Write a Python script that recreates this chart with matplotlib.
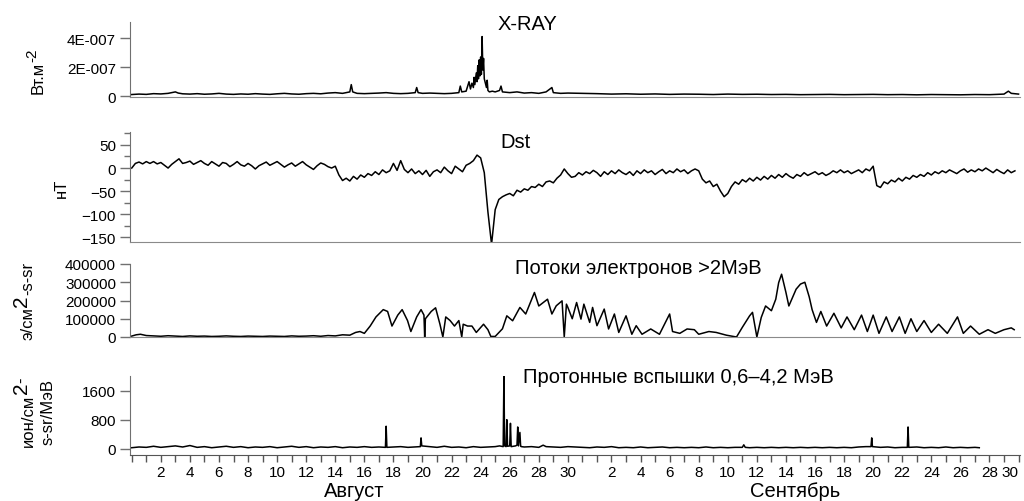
import numpy as np
import matplotlib
matplotlib.use('Agg')
import matplotlib.pyplot as plt
from matplotlib.ticker import FixedLocator
from matplotlib.transforms import IdentityTransform

plt.rcParams['font.family'] = ['Liberation Sans', 'DejaVu Sans']

# ---------------- data (day 0 = start of 1 August) ----------------
xray_day = [0.0, 0.5, 1.0, 1.5, 2.0, 2.5, 3.0, 3.2, 3.5, 4.0, 4.5, 5.0, 5.5, 6.0, 6.5, 7.0, 7.5, 8.0,
            8.5, 9.0, 9.5, 10.0, 10.5, 11.0, 11.5, 12.0, 12.5, 13.0, 13.5, 14.0, 14.5, 15.0, 15.1, 15.2,
            15.5, 16.0, 16.5, 17.0, 17.5, 18.0, 18.5, 19.0, 19.5, 19.6, 19.7, 20.0, 20.5, 21.0, 21.5,
            22.0, 22.5, 22.6, 22.7, 23.0, 23.2, 23.3, 23.4, 23.5, 23.55, 23.6, 23.7, 23.75, 23.8, 23.85,
            23.9, 23.95, 24.0, 24.05, 24.1, 24.15, 24.2, 24.25, 24.3, 24.4, 24.45, 24.5, 24.6, 24.8,
            25.0, 25.3, 25.4, 25.5, 26.0, 26.5, 27.0, 27.5, 28.0, 28.5, 28.9, 29.0, 29.5, 30.0, 31.0,
            32.0, 33.0, 34.0, 35.0, 36.0, 37.0, 38.0, 39.0, 40.0, 41.0, 42.0, 43.0, 44.0, 45.0, 46.0,
            47.0, 48.0, 49.0, 50.0, 51.0, 52.0, 53.0, 54.0, 55.0, 56.0, 57.0, 58.0, 59.0, 60.0, 60.3,
            60.5, 61.0]
xray_val = [0.12, 0.15, 0.13, 0.18, 0.16, 0.2, 0.3, 0.22, 0.17, 0.15, 0.18, 0.14, 0.16, 0.2, 0.15, 0.13, 0.16, 0.14,
            0.18, 0.15, 0.13, 0.17, 0.2, 0.16, 0.14, 0.18, 0.2, 0.17, 0.22, 0.25, 0.2, 0.3, 0.8, 0.3,
            0.2, 0.18, 0.2, 0.22, 0.25, 0.2, 0.18, 0.2, 0.25, 0.6, 0.25, 0.2, 0.22, 0.2, 0.18,
            0.2, 0.25, 0.7, 0.3, 0.35, 1.0, 0.5, 0.9, 0.6, 1.3, 0.8, 1.6, 1.0, 2.1, 1.2,
            2.5, 1.4, 2.7, 1.5, 4.1, 1.8, 2.6, 1.2, 1.0, 0.6, 1.1, 0.4, 0.3, 0.35,
            0.3, 0.4, 0.7, 0.3, 0.25, 0.3, 0.22, 0.25, 0.2, 0.3, 0.6, 0.25, 0.2, 0.22, 0.2,
            0.18, 0.15, 0.17, 0.14, 0.16, 0.13, 0.15, 0.14, 0.12, 0.15, 0.13, 0.14, 0.12, 0.13, 0.11,
            0.12, 0.13, 0.11, 0.12, 0.13, 0.11, 0.12, 0.1, 0.12, 0.11, 0.1, 0.12, 0.11, 0.15, 0.35,
            0.2, 0.15]

dst_step = 0.25
dst_val = [0, 10, 13, 9,   14, 10, 14, 9,   12, 6, 0, 8,   14, 20, 10, 12,
           15, 8, 12, 16,  10, 6, 14, 9,    4, 12, 10, 3,  8, 14, 7, 4,
           10, 5, -2, 5,   9, 13, 6, 10,    14, 8, 2, 7,   11, 4, 9, 14,
           7, 2, -3, 5,    11, 8, 3, 0,     4, -15, -27, -22,  -28, -18, -24, -15,
           -20, -12, -16, -8,  -14, -4, -10, -6,  10, -5, 16, -3,  -10, -2, -12, -6,
           -14, -5, -18, -8,  -4, -10, 2, -6,  -12, 4, -2, -8,  6, 10, 16, 28,
           22, -10, -95, -165,  -90, -68, -62, -58,  -55, -60, -48, -52,  -45, -48, -40, -42,
           -35, -40, -30, -28,  -32, -22, -15, -2,  -12, -20, -18, -10,  -15, -8, -12, -5,
           -10, -18, -8, -14,  -6, -12, -4, -10,  -14, -8, -16, -6,  -12, -4, -10, -6,
           -14, -8, -3, -12,  -6, -10, -2, -8,  -4, -12, -6, -2,  -6, -24, -32, -28,
           -40, -35, -50, -62,  -55, -40, -30, -35,  -25, -30, -22, -28,  -20, -26, -18, -24,
           -16, -22, -14, -20,  -12, -18, -22, -14,  -18, -10, -16, -12,  -8, -14, -10, -16,
           -12, -6, -10, -4,  -10, -6, -12, -8,  -4, -10, -2, -6,  4, -38, -42, -30,
           -34, -26, -30, -22,  -28, -20, -24, -16,  -20, -14, -18, -10,  -15, -8, -12, -6,
           -10, -4, -8, -12,  -6, -2, -9, -4,  -8, -2, -6, 0,  -5, -10, -3, -8,
           -12, -4, -10, -6]

elec_day = [0.0, 0.3, 0.6, 1.0, 1.5, 2.0, 2.5, 3.0, 3.5, 4.0, 4.5, 5.0, 5.5, 6.0, 6.5, 7.0, 7.5, 8.0,
            8.5, 9.0, 9.5, 10.0, 10.5, 11.0, 11.5, 12.0, 12.5, 13.0, 13.5, 14.0, 14.5, 15.0, 15.4,
            15.7, 16.0, 16.4, 16.8, 17.3, 17.6, 17.9, 18.3, 18.6, 18.97, 19.2, 19.6, 19.9, 20.1, 20.15,
            20.2, 20.6, 20.9, 21.2, 21.4, 21.6, 21.9, 22.2, 22.5, 22.7, 22.8, 23.1, 23.4, 23.7, 24.2,
            24.5, 24.7, 25.0, 25.5, 25.8, 26.2, 26.7, 27.1, 27.7, 28.0, 28.6, 28.9, 29.2, 29.6, 29.75,
            29.9, 30.0, 30.3, 30.6, 30.9, 31.1, 31.5, 31.7, 32.0, 32.5, 32.8, 33.2, 33.5, 34.0, 34.4,
            34.7, 35.1, 35.7, 36.3, 37.0, 37.2, 37.7, 38.2, 38.7, 39.0, 39.7, 40.2, 40.9, 41.6, 42.0,
            42.5, 42.7, 43.0, 43.3, 43.6, 44.0, 44.3, 44.5, 44.7, 45.0, 45.2, 45.4, 45.7, 46.0, 46.3,
            46.6, 46.8, 47.1, 47.4, 47.8, 48.3, 48.8, 49.2, 49.7, 50.2, 50.6, 51.0, 51.4, 51.9, 52.3,
            52.8, 53.2, 53.6, 54.0, 54.5, 55.0, 55.5, 56.1, 56.8, 57.2, 57.7, 58.3, 58.9, 59.4, 60.0,
            60.5, 60.7]
elec_val = [5, 12, 15, 8, 6, 4, 7, 5, 3, 6, 4, 5, 3, 4, 6, 4, 3, 5,
            4, 3, 5, 4, 3, 6, 4, 5, 7, 4, 8, 6, 12, 10, 25,
            30, 20, 60, 110, 150, 140, 60, 120, 150, 90, 30, 110, 150, 120, 0,
            100, 140, 160, 70, 0, 110, 90, 60, 90, 0, 70, 60, 60, 25, 70,
            40, 3, 3, 45, 116, 89, 162, 126, 244, 170, 207, 126, 171, 198, 0,
            180, 162, 100, 189, 98, 180, 80, 162, 62, 153, 44, 126, 25, 116, 15,
            62, 15, 44, 15, 126, 30, 20, 44, 40, 15, 30, 25, 10, 0, 53,
            116, 135, 0, 107, 170, 144, 207, 298, 344, 244, 170, 207, 262, 290, 300,
            220, 150, 80, 140, 60, 130, 50, 110, 40, 120, 30, 120, 20, 110, 30,
            110, 20, 100, 30, 90, 25, 70, 20, 110, 20, 60, 15, 40, 20, 40,
            50, 40]

prot_day = [0.0, 0.5, 1.0, 1.5, 2.0, 2.5, 3.0, 3.5, 4.0, 4.5, 5.0, 5.5, 6.0, 6.5, 7.0, 7.5, 8.0, 8.5,
            9.0, 9.5, 10.0, 10.5, 11.0, 11.5, 12.0, 12.5, 13.0, 13.5, 14.0, 14.5, 15.0, 15.5, 16.0,
            16.5, 17.0, 17.45, 17.5, 17.55, 18.0, 18.5, 19.0, 19.5, 19.85, 19.9, 19.95, 20.5, 21.0,
            21.5, 22.0, 22.5, 23.0, 23.5, 24.0, 24.5, 25.0, 25.3, 25.55, 25.6, 25.65, 25.75, 25.8,
            25.85, 26.0, 26.05, 26.1, 26.4, 26.5, 26.55, 26.6, 26.7, 26.75, 26.8, 27.0, 27.5, 28.0,
            28.3, 28.5, 29.0, 29.5, 30.0, 30.5, 31.0, 31.5, 32.0, 32.5, 33.0, 33.5, 34.0, 34.5, 35.0,
            35.5, 36.0, 36.5, 37.0, 37.5, 38.0, 38.5, 39.0, 39.5, 40.0, 40.5, 41.0, 41.5, 42.0, 42.1,
            42.2, 42.5, 43.0, 43.5, 44.0, 44.5, 45.0, 45.5, 46.0, 46.5, 47.0, 47.5, 48.0, 48.5, 49.0,
            49.5, 50.0, 50.5, 50.85, 50.9, 50.95, 51.5, 52.0, 52.5, 53.0, 53.35, 53.4, 53.45, 54.0,
            54.5, 55.0, 55.5, 56.0, 56.5, 57.0, 57.5, 58.0, 58.3]
prot_val = [30, 50, 40, 70, 40, 60, 80, 50, 90, 40, 60, 30, 50, 70, 40, 60, 30, 50,
            40, 60, 30, 50, 70, 40, 60, 30, 50, 40, 60, 30, 50, 40, 60,
            40, 50, 40, 620, 40, 50, 60, 40, 50, 60, 300, 80, 60, 40,
            70, 40, 50, 30, 60, 40, 50, 60, 80, 60, 2000, 80, 60, 800,
            70, 80, 700, 60, 80, 100, 600, 80, 450, 70, 60, 50, 60, 40,
            100, 60, 50, 40, 60, 50, 40, 30, 50, 40, 60, 30, 40, 30, 50,
            30, 40, 50, 30, 40, 30, 40, 30, 50, 30, 40, 30, 40, 40, 110,
            40, 30, 40, 30, 40, 30, 40, 30, 40, 30, 40, 30, 40, 30, 40,
            30, 50, 60, 60, 300, 60, 40, 50, 30, 40, 40, 600, 40, 50,
            30, 40, 30, 50, 30, 40, 30, 40, 30]

aug_ticklabels = [str(d) for d in range(2, 31, 2)]
sep_ticklabels = [str(d) for d in range(2, 31, 2)]

# ---------------- layout ----------------
W, H = 1024, 502
fig = plt.figure(figsize=(W / 100, H / 100), dpi=100)
LEFT, RIGHT = 130, 1020
XLIM = (-0.12, 61.1)
SP = '#707070'


def add_ax(top, bottom):
    return fig.add_axes([LEFT / W, 1 - bottom / H, (RIGHT - LEFT) / W, (bottom - top) / H])


def ftext(x, y, s, **kw):
    fig.text(x / W, 1 - y / H, s, **kw)


def vlabel(xc, yc, pieces):
    """Vertical (rotated) label built from pieces (text, fontsize, shift-left px)."""
    r = fig.canvas.get_renderer()
    made = []
    total = 0.0
    for s, fs, dx in pieces:
        t = fig.text(0, 0, s, rotation=90, fontsize=fs, ha='center', va='bottom',
                     transform=IdentityTransform())
        h = t.get_window_extent(r).height
        made.append((t, h, dx))
        total += h
    y = (H - yc) - total / 2
    for t, h, dx in made:
        t.set_position((xc - dx, y))
        y += h


def style(ax, bottom_color='#8a8a8a'):
    for s in ('top', 'right'):
        ax.spines[s].set_visible(False)
    ax.spines['left'].set_color(SP)
    ax.spines['bottom'].set_color(bottom_color)
    ax.set_xlim(*XLIM)
    ax.tick_params(axis='y', direction='out', length=7, width=1, color=SP, labelsize=11, pad=3)
    ax.tick_params(axis='y', which='minor', direction='out', length=4.5, width=1, color=SP)
    ax.patch.set_alpha(0)


LW = 1.1
TFS = 14.5

# X-ray
ax1 = add_ax(23, 98)
style(ax1)
ax1.plot(xray_day, np.array(xray_val) * 1e-7, color='black', lw=LW)
ax1.set_ylim(-0.05e-7, 5.1e-7)
ax1.set_yticks([0, 2e-7, 4e-7])
ax1.set_yticklabels(['0', '2E-007', '4E-007'])
ax1.set_xticks([])

# Dst
ax2 = add_ax(133, 243)
style(ax2)
dst_day = np.arange(len(dst_val)) * dst_step
ax2.plot(dst_day, dst_val, color='black', lw=LW)
ax2.set_ylim(-160, 78)
ax2.set_yticks([-150, -100, -50, 0, 50])
ax2.yaxis.set_minor_locator(FixedLocator([-125, -75, -25, 25, 75]))
ax2.set_xticks([])

# Electrons
ax3 = add_ax(265, 338)
style(ax3)
ax3.plot(elec_day, np.array(elec_val) * 1000, color='black', lw=LW)
ax3.set_ylim(0, 400000)
ax3.set_yticks([0, 100000, 200000, 300000, 400000])
ax3.set_yticklabels(['0', '100000', '200000', '300000', '400000'])
ax3.set_xticks([])

# Protons
ax4 = add_ax(377, 456)
style(ax4, bottom_color='#555555')
ax4.plot(prot_day, prot_val, color='black', lw=LW)
ax4.set_ylim(-170, 2000)
ax4.set_yticks([0, 800, 1600])
ax4.set_xticks(np.arange(0, 62))
ticklabels = [''] * 62
for i, lab in enumerate(aug_ticklabels):
    ticklabels[2 + 2 * i] = lab
for i, lab in enumerate(sep_ticklabels):
    ticklabels[33 + 2 * i] = lab
ax4.set_xticklabels(ticklabels)
ax4.tick_params(axis='x', direction='out', length=5, width=1, color='#555555', labelsize=11, pad=2)
ax4.get_xticklabels()[61].set_ha('right')

# titles (pixel coordinates)
ftext(527, 24, 'X-RAY', ha='center', va='center', fontsize=TFS)
ftext(516, 143, 'Dst', ha='center', va='center', fontsize=TFS)
ftext(638, 269, 'Потоки электронов >2МэВ', ha='center', va='center', fontsize=TFS)
ftext(678, 378, 'Протонные вспышки 0,6\u20134,2 МэВ', ha='center', va='center', fontsize=TFS)

# month labels
ftext(354, 492, 'Август', ha='center', va='center', fontsize=TFS)
ftext(795, 492, 'Сентябрь', ha='center', va='center', fontsize=TFS)

# y labels
vlabel(38, 71, [('Вт.м', 12, 0), ('-2', 11, 6)])
ftext(61, 188, 'нТ', ha='center', va='center', rotation=90, fontsize=12)
vlabel(28, 301, [('э/см', 12, 0), ('2', 15, 6), ('-s-sr', 12, 0)])
vlabel(28, 412, [('ион/см', 12, 0), ('2', 15, 6), ('-', 12, 6)])
ftext(48, 412, 's-sr/МэВ', ha='center', va='center', rotation=90, fontsize=12)

fig.savefig('out.png', dpi=100)
